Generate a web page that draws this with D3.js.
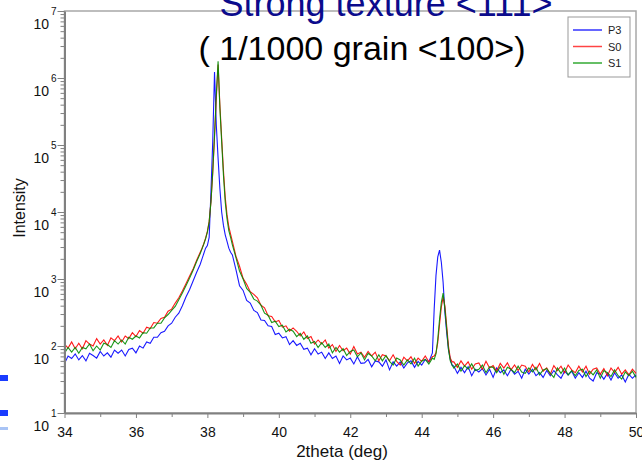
<!DOCTYPE html>
<html lang="en">
<head>
<meta charset="utf-8">
<script src="https://cdn.jsdelivr.net/npm/d3@7"></script>
<style>
  body { margin: 0; background: #fff; }
  svg text { font-family: "Liberation Sans", Arial, sans-serif; }
</style>
</head>
<body>
<script>
// sampling angles (2theta, deg): 0.1 step, 0.05 step across the two peaks
const twoTheta = [].concat(
  d3.range(3400, 3781, 10),   // 34.0 - 37.8
  d3.range(3785, 3866, 5),    // 37.85 - 38.65
  d3.range(3870, 4431, 10),   // 38.7 - 44.3
  d3.range(4435, 4486, 5),    // 44.35 - 44.85
  d3.range(4490, 5001, 10)    // 44.9 - 50.0
).map(v => v / 100);

// P3 (blue)
const p3 = [
  55, 71, 65, 76, 62, 72, 60, 78, 72, 66, 83, 71, 79, 68, 87, 78, 87, 71, 89, 93,
  79, 100, 93, 115, 110, 135, 135, 158, 166, 200, 219, 269, 309, 398, 537, 692, 933, 1259, 1660,
  1995, 2399, 2884, 3162, 4169, 19953, 112202, 1230269, 199526, 63096, 22387, 10000, 6310, 4571, 3631, 2884, 2512,
  2291, 1380, 794, 676, 479, 437, 339, 316, 245, 240, 200, 195, 148, 155, 132, 138, 105, 120, 102, 110,
  89, 93, 74, 91, 76, 81, 65, 79, 65, 71, 55, 71, 62, 66, 54, 69, 55, 56, 63, 49,
  60, 58, 50, 62, 44, 58, 50, 58, 47, 56, 60, 48, 59, 52, 63, 58, 79,
  355, 1122, 2138, 2692, 1778, 891, 316, 158, 89, 63, 52,
  50, 39, 48, 40, 49, 36, 45, 41, 46, 37, 45, 34, 47, 40, 44, 36, 45, 38, 42, 33,
  45, 38, 45, 36, 40, 34, 43, 36, 43, 37, 33, 42, 37, 42, 33, 40, 34, 42, 33, 30,
  40, 38, 32, 39, 31, 40, 33, 37, 29, 38, 33, 37
];

// S0 (red)
const s0 = [
  107, 93, 115, 91, 110, 91, 120, 107, 100, 129, 107, 123, 102, 132, 120, 141, 115, 141, 129, 158,
  138, 170, 155, 191, 182, 224, 219, 257, 269, 331, 355, 437, 525, 661, 851, 1096, 1413, 1905, 2512,
  2884, 3388, 4074, 5129, 7244, 14125, 38019, 131826, 501187, 1584893, 398107, 125893, 41687, 16596, 9120, 6026, 4677,
  3631, 2188, 1549, 1023, 832, 646, 589, 525, 407, 372, 282, 275, 229, 240, 191, 200, 166, 186, 166, 141,
  162, 129, 138, 107, 123, 107, 123, 93, 105, 83, 102, 85, 93, 76, 98, 76, 81, 68, 83, 71,
  81, 60, 74, 71, 60, 74, 59, 52, 68, 60, 69, 55, 66, 59, 71, 58, 69,
  71, 79, 112, 209, 380, 537, 398, 200, 100, 66, 58,
  58, 48, 60, 50, 58, 45, 54, 56, 45, 59, 47, 51, 42, 55, 47, 56, 44, 52, 43, 52,
  50, 41, 53, 44, 55, 42, 47, 38, 51, 43, 50, 40, 52, 44, 40, 50, 41, 50, 38, 45,
  47, 38, 46, 36, 47, 40, 48, 38, 44, 37, 45, 39
];

// S1 (green)
const s1 = [
  78, 95, 81, 95, 78, 95, 91, 107, 85, 100, 87, 110, 105, 95, 120, 107, 123, 107, 135, 126,
  141, 132, 158, 155, 186, 186, 219, 219, 263, 295, 339, 389, 490, 617, 794, 1023, 1349, 1820, 2399,
  2818, 3311, 3981, 5012, 7079, 14125, 39811, 141254, 562341, 1778279, 354813, 112202, 35481, 14125, 7943, 5248, 4169,
  3236, 2089, 1318, 1000, 724, 631, 501, 468, 407, 309, 288, 224, 234, 195, 204, 162, 178, 166, 138, 155,
  126, 141, 110, 117, 95, 112, 95, 107, 79, 95, 81, 91, 72, 83, 87, 69, 79, 62, 78, 71,
  60, 74, 60, 72, 59, 52, 66, 62, 52, 62, 54, 66, 50, 60, 63, 54, 66,
  63, 76, 126, 251, 447, 617, 355, 178, 89, 60, 52,
  47, 54, 42, 51, 45, 54, 43, 45, 52, 40, 49, 48, 40, 49, 38, 48, 45, 40, 50, 41,
  39, 47, 41, 48, 37, 44, 46, 39, 34, 47, 39, 47, 37, 43, 36, 43, 45, 35, 42, 37,
  44, 33, 43, 40, 35, 44, 36, 32, 41, 36, 42, 34
];

const seriesNames = ["P3", "S0", "S1"];
const seriesColors = ["#0000ff", "#ff0000", "#008c00"];
const legendColors = ["#3333ff", "#ff4444", "#33aa33"];
const xTicks = [34, 36, 38, 40, 42, 44, 46, 48, 50];
const xMinorTicks = [35, 37, 39, 41, 43, 45, 47, 49];
const yExponents = [1, 2, 3, 4, 5, 6, 7];

const W = 642, H = 469;
const plotL = 64.5, plotR = 636, plotT = 11, plotB = 413;

const svg = d3.select("body").append("svg")
  .attr("width", W)
  .attr("height", H);

svg.append("rect").attr("width", W).attr("height", H).attr("fill", "#fff");

const x = d3.scaleLinear().domain([34, 50]).range([plotL, plotR]);
const y = d3.scaleLog().domain([10, 1e7]).range([plotB, plotT]);

// leftover bits of the slide on the far left
svg.append("rect").attr("x", 0).attr("y", 375).attr("width", 8).attr("height", 6).attr("fill", "#1a3cff");
svg.append("rect").attr("x", 0).attr("y", 410).attr("width", 8).attr("height", 6).attr("fill", "#1a3cff");
svg.append("rect").attr("x", 0).attr("y", 427).attr("width", 8).attr("height", 3).attr("fill", "#a9c4f5");

// frame
svg.append("rect")
  .attr("x", plotL).attr("y", plotT)
  .attr("width", plotR - plotL).attr("height", plotB - plotT)
  .attr("fill", "none")
  .attr("stroke", "#a8a8a8")
  .attr("stroke-width", 1.5);

// data lines
const data = [p3, s0, s1];
const line = d3.line()
  .x((d, i) => x(twoTheta[i]))
  .y(d => y(d));

svg.append("g")
  .selectAll("path")
  .data(data)
  .join("path")
  .attr("d", d => line(d))
  .attr("fill", "none")
  .attr("stroke", (d, i) => seriesColors[i])
  .attr("stroke-width", 1.1)
  .attr("stroke-opacity", 0.9);

// y axis: minor + major ticks
const minorY = [];
yExponents.slice(0, -1).forEach(e => {
  for (let m = 2; m <= 9; m++) minorY.push(m * Math.pow(10, e));
});
const majorY = yExponents.map(e => Math.pow(10, e));

svg.append("g")
  .attr("transform", `translate(${plotL},0)`)
  .call(d3.axisLeft(y).tickValues(minorY).tickSize(4).tickFormat(""))
  .call(g => g.select(".domain").remove())
  .call(g => g.selectAll("line").attr("stroke", "#808080"));

const yAx = svg.append("g")
  .attr("transform", `translate(${plotL},0)`)
  .call(d3.axisLeft(y).tickValues(majorY).tickSize(7).tickSizeOuter(0).tickFormat(""));
yAx.select(".domain").attr("stroke", "#808080").attr("stroke-width", 2);
yAx.selectAll("line").attr("stroke", "#808080");

svg.append("g").selectAll("text")
  .data(yExponents)
  .join("text")
  .attr("x", 49)
  .attr("y", e => y(Math.pow(10, e)) + 18)
  .attr("text-anchor", "end")
  .attr("font-size", 14)
  .attr("fill", "#111")
  .text("10");
svg.append("g").selectAll("text")
  .data(yExponents)
  .join("text")
  .attr("x", 51)
  .attr("y", e => y(Math.pow(10, e)) + 4)
  .attr("font-size", 10)
  .attr("fill", "#111")
  .text(e => e);

// x axis
svg.append("g")
  .attr("transform", `translate(0,${plotB})`)
  .call(d3.axisBottom(x).tickValues(xMinorTicks).tickSize(4).tickFormat(""))
  .call(g => g.select(".domain").remove())
  .call(g => g.selectAll("line").attr("stroke", "#808080"));

const xAx = svg.append("g")
  .attr("transform", `translate(0,${plotB})`)
  .call(d3.axisBottom(x).tickValues(xTicks).tickSize(5).tickSizeOuter(0).tickPadding(9).tickFormat(d3.format("d")));
xAx.select(".domain").attr("stroke", "#808080").attr("stroke-width", 2);
xAx.selectAll("line").attr("stroke", "#808080");
xAx.selectAll("text")
  .attr("font-size", 14)
  .attr("font-family", "Liberation Sans, Arial, sans-serif")
  .attr("fill", "#111");

// axis titles
svg.append("text")
  .attr("x", 342).attr("y", 457)
  .attr("text-anchor", "middle")
  .attr("font-size", 17)
  .attr("fill", "#111")
  .text("2theta (deg)");

svg.append("text")
  .attr("transform", "translate(25,208) rotate(-90)")
  .attr("text-anchor", "middle")
  .attr("font-size", 16)
  .attr("fill", "#111")
  .text("Intensity");

// legend
const lg = svg.append("g");
lg.append("rect")
  .attr("x", 568).attr("y", 17)
  .attr("width", 62).attr("height", 60)
  .attr("fill", "#fff")
  .attr("stroke", "#999");
const rows = lg.selectAll("g.row")
  .data(seriesNames)
  .join("g")
  .attr("class", "row")
  .attr("transform", (d, i) => `translate(0,${30 + i * 16.5})`);
rows.append("line")
  .attr("x1", 573).attr("x2", 602)
  .attr("stroke", (d, i) => legendColors[i])
  .attr("stroke-width", 1.5);
rows.append("text")
  .attr("x", 608).attr("y", 4)
  .attr("font-size", 11)
  .attr("fill", "#222")
  .text(d => d);

// titles over the frame
svg.append("text")
  .attr("x", 386).attr("y", 16)
  .attr("text-anchor", "middle")
  .attr("font-size", 36)
  .attr("fill", "#0b0b8c")
  .text("Strong texture <111>");

svg.append("text")
  .attr("x", 362).attr("y", 60)
  .attr("text-anchor", "middle")
  .attr("font-size", 34)
  .attr("fill", "#000")
  .text("( 1/1000 grain <100>)");
</script>
</body>
</html>
